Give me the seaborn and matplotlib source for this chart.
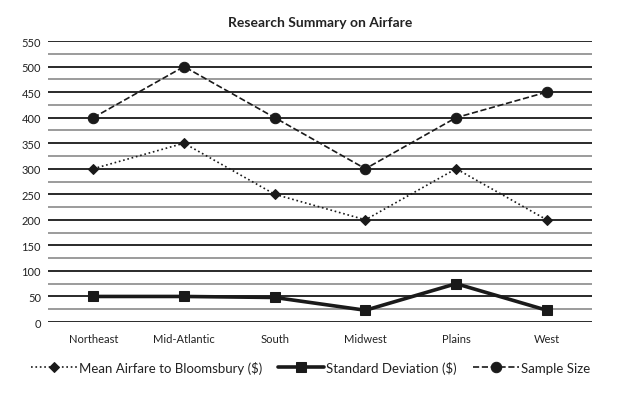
import numpy as np
import pandas as pd
import matplotlib.pyplot as plt
import seaborn as sb

# Chart data
regions = ['Northeast', 'Mid-Atlantic', 'South', 'Midwest', 'Plains', 'West']
mean_airfare = [300, 350, 250, 200, 300, 200]
std_dev = [50, 50, 48, 23, 75, 23]
sample_size = [400, 500, 400, 300, 400, 450]

sb.set_style('white')
plt.rcParams['font.family'] = ['Lato', 'DejaVu Sans']

fig = plt.figure(figsize=(6.44, 4.02), dpi=100)
ax = fig.add_axes([0.0745, 0.1965, 0.845, 0.699])

# Gridlines: darker at every 50, lighter in between
for v in range(0, 551, 25):
    if v % 50 == 0:
        ax.axhline(v, color='#2a2a2a', lw=1.4, zorder=0)
    else:
        ax.axhline(v, color='#8a8a8a', lw=1.2, zorder=0)

df = pd.DataFrame({'region': regions, 'mean': mean_airfare,
                   'std': std_dev, 'size': sample_size})

ink = '#1a1a1a'
sb.lineplot(data=df, x='region', y='mean', sort=False, ax=ax, color=ink,
            lw=1.2, linestyle=':', marker='D', markersize=5.5,
            markeredgecolor=ink, label='Mean Airfare to Bloomsbury ($)',
            clip_on=False)
sb.lineplot(data=df, x='region', y='std', sort=False, ax=ax, color=ink,
            lw=2.6, linestyle='-', marker='s', markersize=7.5,
            markeredgecolor=ink, label='Standard Deviation ($)', clip_on=False)
sb.lineplot(data=df, x='region', y='size', sort=False, ax=ax, color=ink,
            lw=1.2, linestyle='--', marker='o', markersize=7.5,
            markeredgecolor=ink, label='Sample Size', clip_on=False)

ax.set_xlim(-0.5, 5.5)
ax.set_ylim(0, 550)
ax.set_yticks(range(0, 551, 50))
ax.set_xlabel('')
ax.set_ylabel('')
ax.tick_params(axis='both', length=0, labelsize=8, colors='#222222')
ax.tick_params(axis='y', pad=5)
ax.tick_params(axis='x', pad=8)
for s in ax.spines.values():
    s.set_visible(False)

ax.set_title('Research Summary on Airfare', fontsize=10, fontweight='bold',
             color='#222222', pad=11)

ax.legend(loc='upper center', bbox_to_anchor=(0.4825, -0.095), ncol=3,
          frameon=False, fontsize=9.5, handlelength=3.5, columnspacing=1.2,
          handletextpad=0.15, labelcolor='#222222')

fig.savefig('out.png', dpi=100)
